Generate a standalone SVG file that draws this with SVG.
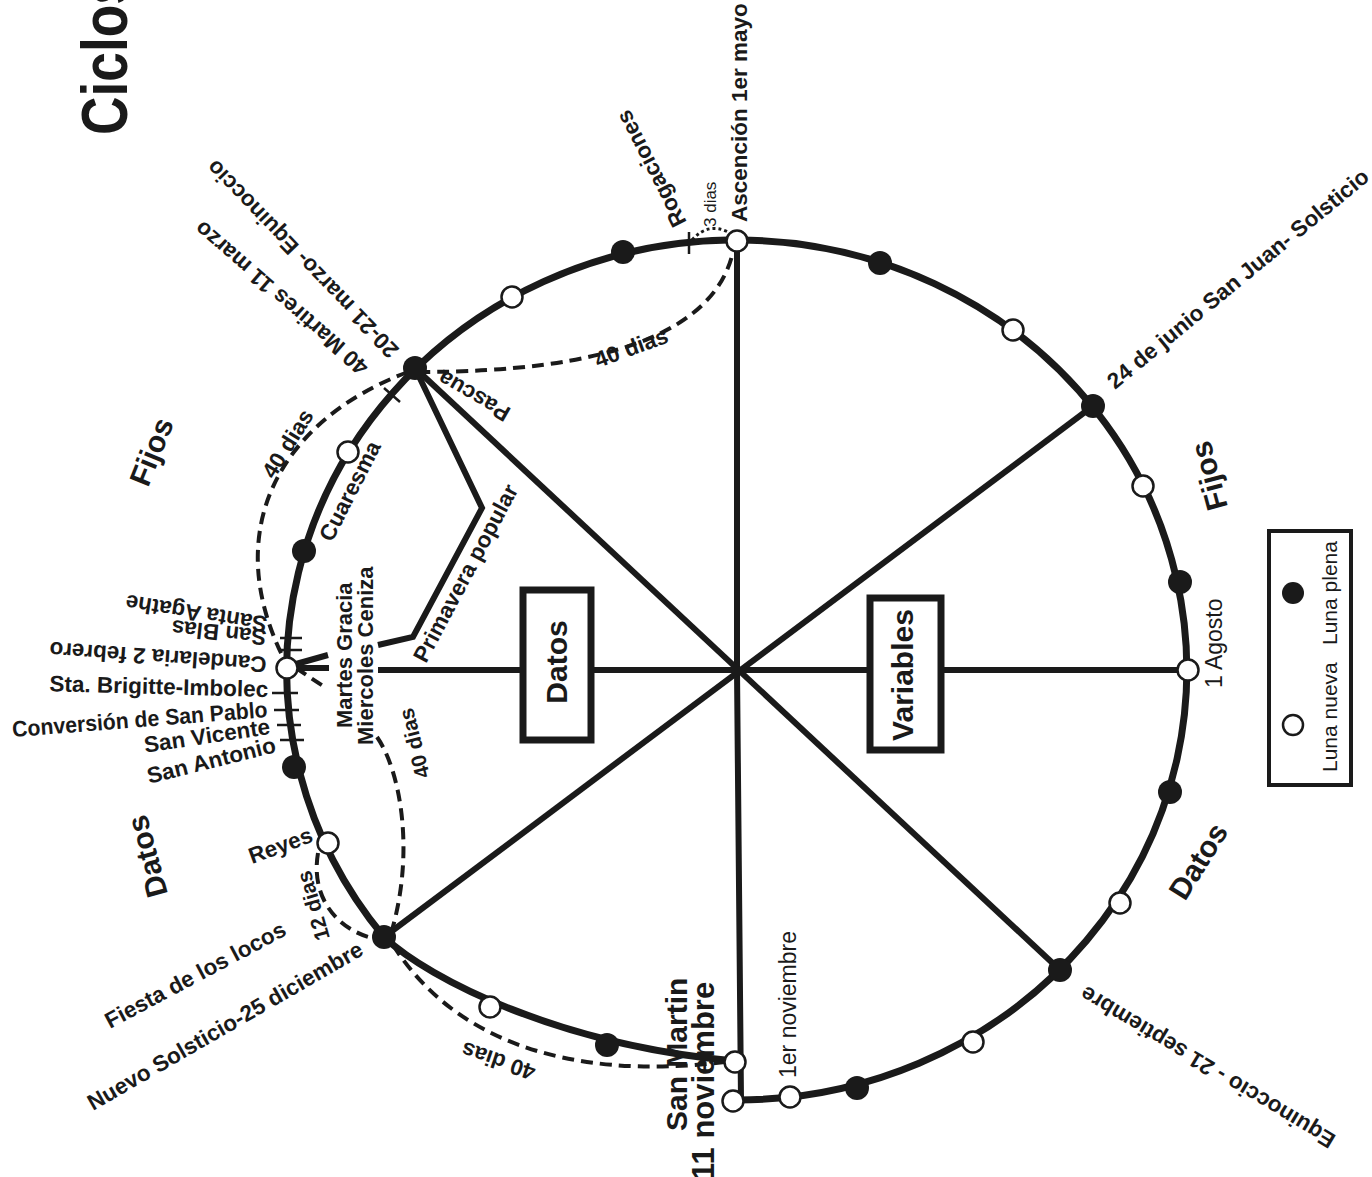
<svg xmlns="http://www.w3.org/2000/svg" width="1372" height="1177" viewBox="0 0 1372 1177">
<style>
text{font-family:"Liberation Sans",Arial,sans-serif;fill:#1a1a1a}
.b{font-weight:bold;font-size:22.5px}
.r{font-size:23px}
.s{font-size:17px}
.h{font-weight:bold;font-size:30px}
.full{fill:#1a1a1a}
.new{fill:#fff;stroke:#1a1a1a;stroke-width:2.5}
.ring{fill:none;stroke:#1a1a1a;stroke-width:7}
.spoke{fill:none;stroke:#1a1a1a;stroke-width:6}
.dash{fill:none;stroke:#1a1a1a;stroke-width:4;stroke-dasharray:12 7}
.dot{fill:none;stroke:#1a1a1a;stroke-width:3;stroke-dasharray:3 3}
.tick{fill:none;stroke:#1a1a1a;stroke-width:2.5}
.box{fill:#fff;stroke:#1a1a1a;stroke-width:7}
</style>
<rect width="1372" height="1177" fill="#fff"/>

<text x="127" y="135" transform="rotate(-90 127 135)" style="font-weight:900;font-size:64px" textLength="160" lengthAdjust="spacingAndGlyphs">Ciclos</text>

<g id="connectors">
  <path class="ring" d="M735,1061 C560,1045 430,980 384,937 A450 430 0 1 1 733,1100"/>
  <path class="spoke" d="M737,241 L737,670 L741,1100"/>
  <path class="spoke" d="M415,368 L1060,970"/>
  <path class="spoke" d="M1093,406 L384,937"/>
  <path class="spoke" d="M378,670 L1188,670"/>
  <path class="spoke" d="M415,368 L482,508 L413,637 L378,645"/>
  <path class="spoke" d="M296,664 L328,655 M296,668 L329,668"/>
  <path class="dash" d="M418,372 Q705,372 733,252"/>
  <path class="dash" d="M408,372 C280,420 220,530 283,657"/>
  <path class="dash" d="M296,668 L326,688"/>
  <path class="dash" d="M377,737 C400,770 415,850 392,930"/>
  <path class="dash" d="M318,853 C310,900 340,930 372,938"/>
  <path class="dash" d="M393,945 C450,1035 560,1082 725,1062"/>
  <path class="dot" d="M692,240 Q708,222 728,232"/>
  <path class="tick" d="M689,232 L689,254"/>
  <path class="tick" d="M384,388 L400,402"/>
  <path class="tick" d="M280,638 L302,638 M280,650 L302,650"/>
  <path class="tick" d="M272,693 L298,693 M274,710 L299,710 M277,725 L301,725 M280,740 L304,740"/>
</g>

<g id="datos-box">
  <rect class="box" x="523" y="590" width="68" height="150"/>
  <text class="h" x="567" y="662" text-anchor="middle" transform="rotate(-90 567 662)">Datos</text>
</g>
<g id="variables-box">
  <rect class="box" x="870" y="598" width="71" height="152"/>
  <text class="h" x="913" y="675" text-anchor="middle" transform="rotate(-90 913 675)">Variables</text>
</g>

<g id="ascension">
  <circle class="new" cx="737" cy="241" r="10.5"/>
  <text class="b" x="747" y="222" transform="rotate(-90 747 222)">Ascención 1er mayo</text>
  <text class="s" x="716" y="227" transform="rotate(-90 716 227)">3 dias</text>
</g>
<g id="rogaciones">
  <text class="b" x="687" y="222" transform="rotate(-117 687 222)">Rogaciones</text>
</g>
<g id="dias40-top"><text class="b" x="598" y="368" transform="rotate(-20 598 368)">40 dias</text></g>
<g id="m1"><circle class="full" cx="623" cy="252" r="12"/></g>
<g id="m2"><circle class="new" cx="512" cy="297" r="10.5"/></g>
<g id="m3"><circle class="full" cx="880" cy="263" r="12"/></g>
<g id="m4"><circle class="new" cx="1013" cy="330" r="10.5"/></g>
<g id="solsticio-junio">
  <circle class="full" cx="1093" cy="406" r="12"/>
  <text class="b" x="1115" y="390" transform="rotate(-39.5 1115 390)">24 de junio San Juan- Solsticio</text>
</g>
<g id="m5"><circle class="new" cx="1143" cy="486" r="10.5"/></g>
<g id="m6"><circle class="full" cx="1180" cy="582" r="12"/></g>
<g id="agosto">
  <circle class="new" cx="1188" cy="670" r="10.5"/>
  <text class="r" x="1222" y="688" transform="rotate(-90 1222 688)">1 Agosto</text>
</g>
<g id="m7"><circle class="full" cx="1170" cy="792" r="12"/></g>
<g id="m8"><circle class="new" cx="1120" cy="903" r="10.5"/></g>
<g id="equinoccio-sept">
  <circle class="full" cx="1060" cy="970" r="12"/>
  <text class="b" x="1337" y="1136" transform="rotate(-149 1337 1136)">Equinoccio - 21 septiembre</text>
</g>
<g id="m9"><circle class="new" cx="973" cy="1042" r="10.5"/></g>
<g id="m10"><circle class="full" cx="857" cy="1088" r="12"/></g>
<g id="noviembre1">
  <circle class="new" cx="790" cy="1097" r="10.5"/>
  <text class="r" x="796" y="1078" transform="rotate(-90 796 1078)">1er noviembre</text>
</g>
<g id="end"><circle class="new" cx="733" cy="1101" r="10.5"/></g>
<g id="san-martin">
  <circle class="new" cx="735" cy="1062" r="10.5"/>
  <text class="b" x="687" y="1131" style="font-size:30px" transform="rotate(-90 687 1131)">San Martin</text>
  <text class="b" x="714" y="1180" style="font-size:31px" transform="rotate(-90 714 1180)">11 noviembre</text>
</g>
<g id="m11"><circle class="full" cx="607" cy="1045" r="12"/></g>
<g id="m12"><circle class="new" cx="490" cy="1007" r="10.5"/></g>
<g id="dias40-bottom"><text class="b" x="537" y="1066" transform="rotate(198.7 537 1066)">40 dias</text></g>
<g id="solsticio-dic">
  <circle class="full" cx="384" cy="937" r="12"/>
  <text class="b" x="93" y="1111" transform="rotate(-30 93 1111)">Nuevo Solsticio-25 diciembre</text>
  <text class="b" x="110" y="1029" transform="rotate(-28 110 1029)">Fiesta de los locos</text>
  <text class="b" x="330" y="938" style="font-size:21px" transform="rotate(-106 330 938)">12 dias</text>
</g>
<g id="reyes">
  <circle class="new" cx="328" cy="843" r="10.5"/>
  <text class="b" x="252" y="864" transform="rotate(-20 252 864)">Reyes</text>
</g>
<g id="m13"><circle class="full" cx="294" cy="767" r="12"/></g>
<g id="candelaria">
  <circle class="new" cx="287" cy="668" r="10.5"/>
  <text class="b" x="267" y="657" transform="rotate(184 267 657)">Candelaria 2 febrero</text>
  <text class="b" x="267" y="630" transform="rotate(186 267 630)">San Blas</text>
  <text class="b" x="268" y="617" transform="rotate(189 268 617)">Santa Agathe</text>
  <text class="b" x="268" y="697" text-anchor="end" transform="rotate(1.5 268 697)">Sta. Brigitte-Imbolec</text>
  <text class="b" x="268" y="717" text-anchor="end" textLength="256" lengthAdjust="spacingAndGlyphs" transform="rotate(-4.5 268 717)">Conversión de San Pablo</text>
  <text class="b" x="271" y="734" text-anchor="end" transform="rotate(-8.5 271 734)">San Vicente</text>
  <text class="b" x="277" y="752" text-anchor="end" transform="rotate(-14 277 752)">San Antonio</text>
  <text class="b" x="352" y="728" style="font-size:22px" transform="rotate(-90 352 728)">Martes Gracia</text>
  <text class="b" x="373" y="745" style="font-size:22px" transform="rotate(-90 373 745)">Miercoles Ceniza</text>
  <text class="b" x="430" y="776" style="font-size:21px" transform="rotate(-104 430 776)">40 dias</text>
</g>
<g id="cuaresma">
  <circle class="full" cx="304" cy="551" r="12"/>
  <circle class="new" cx="348" cy="452" r="10.5"/>
  <text class="b" x="332" y="543" transform="rotate(-63 332 543)">Cuaresma</text>
  <text class="b" x="274" y="480" transform="rotate(-58 274 480)">40 dias</text>
</g>
<g id="pascua">
  <circle class="full" cx="415" cy="368" r="12"/>
  <text class="b" x="512" y="409" transform="rotate(-150 512 409)">Pascua</text>
  <text class="b" x="400" y="349" transform="rotate(-134 400 349)">20-21 marzo- Equinoccio</text>
  <text class="b" x="370" y="365" transform="rotate(-139 370 365)">40 Martires 11 marzo</text>
  <text class="b" x="426" y="664" transform="rotate(-62 426 664)">Primavera popular</text>
</g>

<g id="sections">
  <text class="h" x="148" y="488" transform="rotate(-68 148 488)">Fijos</text>
  <text class="h" x="168" y="894" transform="rotate(-105 168 894)">Datos</text>
  <text class="h" x="1228" y="507" transform="rotate(-105 1228 507)">Fijos</text>
  <text class="h" x="1185" y="902" transform="rotate(-58 1185 902)">Datos</text>
</g>

<g id="legend">
  <rect x="1269" y="531" width="82" height="254" fill="#fff" stroke="#1a1a1a" stroke-width="4"/>
  <circle class="full" cx="1293" cy="593" r="11"/>
  <circle class="new" cx="1293" cy="725" r="10"/>
  <text x="1337" y="645" style="font-size:21px" transform="rotate(-90 1337 645)">Luna plena</text>
  <text x="1337" y="772" style="font-size:21px" transform="rotate(-90 1337 772)">Luna nueva</text>
</g>
</svg>
